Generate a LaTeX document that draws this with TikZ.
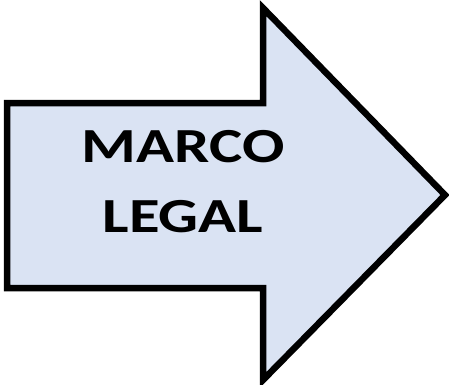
\documentclass[tikz,border=0pt]{standalone}
\usepackage{fontspec}
\setmainfont{Carlito}
\newfontfamily\labelfont[FakeStretch=1.28]{Carlito}
\definecolor{arrowfill}{HTML}{DAE3F3}
\begin{document}
\begin{tikzpicture}[x=1pt,y=1pt,
bigarrow/.style={draw=black,fill=arrowfill,line width=6.5pt,line join=miter,miter limit=20},
arrowtext/.style={align=center,font=\labelfont\fontsize{49}{70}\selectfont\bfseries}]
\useasboundingbox (0,0) rectangle (449,384);
\draw[bigarrow] (7,281) -- (263,281) -- (263,376) -- (445,189) -- (263,4) -- (263,96) -- (7,96) -- cycle;
\node[arrowtext] (label) at (183,202) {MARCO\\LEGAL};
\end{tikzpicture}
\end{document}
